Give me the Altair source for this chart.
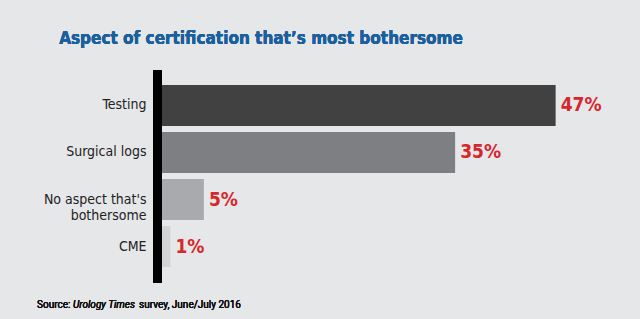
import altair as alt
import pandas as pd

categories = ["Testing", "Surgical logs", "No aspect that's|bothersome", "CME"]
values = [47, 35, 5, 1]
bar_colors = ["#414141", "#7e7f82", "#a9aaad", "#d2d3d5"]
title_text = "Aspect of certification that\u2019s most bothersome"

df = pd.DataFrame({
    "category": categories,
    "value": values,
    "label": [f"{v}%" for v in values],
})

NARROW = "DejaVu Sans Condensed"
W, H = 469, 212

x = alt.X("value:Q", scale=alt.Scale(domain=[0, 56]), axis=None)
y = alt.Y("category:N", sort=categories,
          scale=alt.Scale(paddingInner=0.13, paddingOuter=0.32),
          axis=alt.Axis(title=None, domain=False, ticks=False, labelPadding=16,
                        labelFont=NARROW, labelFontSize=14, labelColor="#222222",
                        labelLineHeight=16, labelExpr="split(datum.label, '|')"))

bars = alt.Chart(df).mark_bar().encode(
    x=x, y=y,
    color=alt.Color("category:N", scale=alt.Scale(domain=categories, range=bar_colors), legend=None),
)

labels = alt.Chart(df).mark_text(
    align="left", baseline="middle", dx=5, font=NARROW, fontSize=19,
    fontWeight="bold", color="#d7262c",
).encode(x=x, y=alt.Y("category:N", sort=categories), text="label:N")

axis_line = alt.Chart(df).mark_rule(color="#000000", strokeWidth=9).encode(
    x=alt.value(-4.5), y=alt.value(0), y2=alt.value(213)
)

title = alt.Chart(df).mark_text(
    align="center", baseline="alphabetic", font=NARROW, fontSize=17,
    fontWeight="bold", color="#1b5f9d",
).encode(x=alt.value(99), y=alt.value(-26), text=alt.value(title_text))

src_font = "Roboto"
src1 = alt.Chart(df).mark_text(align="left", baseline="alphabetic", font=src_font,
                               fontSize=10, fontWeight="normal", color="#111111").encode(
    x=alt.value(-125), y=alt.value(238), text=alt.value("Source:"))
src2 = alt.Chart(df).mark_text(align="left", baseline="alphabetic", font=src_font,
                               fontSize=10, fontWeight="normal", fontStyle="italic",
                               color="#111111").encode(
    x=alt.value(-89), y=alt.value(238), text=alt.value("Urology Times"))
src3 = alt.Chart(df).mark_text(align="left", baseline="alphabetic", font=src_font,
                               fontSize=10, fontWeight="normal", color="#111111").encode(
    x=alt.value(-23), y=alt.value(238), text=alt.value("survey, June/July 2016"))

chart = alt.layer(bars, labels, axis_line, title, src1, src2, src3).properties(
    width=W, height=H,
    padding={"left": 162, "top": 70, "right": 9, "bottom": 37},
    autosize=alt.AutoSizeParams(type="none"),
    background="#e6e7e9",
).configure_view(stroke=None)

chart.save("out.html", embed_options={"renderer": "svg", "actions": False})
